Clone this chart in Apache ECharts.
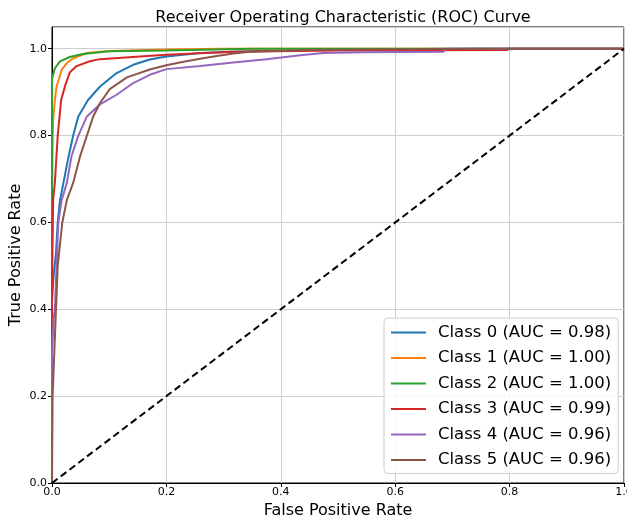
<!DOCTYPE html>
<html>
<head>
<meta charset="utf-8">
<script src="https://cdn.jsdelivr.net/npm/echarts@6/dist/echarts.min.js"></script>
<style>html,body{margin:0;padding:0;background:#fff;}#c{width:627px;height:521px;}</style>
</head>
<body>
<div id="c"></div>
<script>
const classNames = ['Class 0 (AUC = 0.98)', 'Class 1 (AUC = 1.00)', 'Class 2 (AUC = 1.00)', 'Class 3 (AUC = 0.99)', 'Class 4 (AUC = 0.96)', 'Class 5 (AUC = 0.96)'];
const colors = ['#1f77b4', '#ff7f0e', '#2ca02c', '#d62728', '#9467bd', '#8c564b'];
const xTicks = [0, 0.2, 0.4, 0.6, 0.8, 1.0];
const yTicks = [0, 0.2, 0.4, 0.6, 0.8, 1.0];

const fpr0 = [0, 0, 0.003, 0.007, 0.010, 0.014, 0.020, 0.029, 0.037, 0.046, 0.063, 0.084, 0.113, 0.142, 0.171, 0.2, 0.259, 0.317, 0.4, 0.5, 0.6, 0.7, 1.0];
const tpr0 = [0, 0.42, 0.48, 0.53, 0.6, 0.652, 0.691, 0.752, 0.8, 0.844, 0.882, 0.913, 0.944, 0.963, 0.975, 0.982, 0.99, 0.993, 0.996, 0.998, 0.999, 1.0, 1.0];

const fpr1 = [0, 0, 0.001, 0.002, 0.005, 0.008, 0.017, 0.026, 0.037, 0.061, 0.1, 0.2, 0.3, 1.0];
const tpr1 = [0, 0.6, 0.78, 0.836, 0.882, 0.913, 0.952, 0.967, 0.978, 0.99, 0.995, 0.998, 1.0, 1.0];

const fpr2 = [0, 0, 0.005, 0.014, 0.031, 0.054, 0.1, 0.2, 0.35, 1.0];
const tpr2 = [0, 0.93, 0.955, 0.971, 0.981, 0.988, 0.994, 0.996, 1.0, 1.0];

const fpr3 = [0, 0, 0.002, 0.005, 0.010, 0.016, 0.023, 0.031, 0.043, 0.066, 0.084, 0.154, 0.2, 0.316, 0.5, 0.795, 0.8, 1.0];
const tpr3 = [0, 0.45, 0.652, 0.691, 0.8, 0.882, 0.915, 0.945, 0.96, 0.971, 0.976, 0.982, 0.986, 0.993, 0.996, 0.997, 1.0, 1.0];

const fpr4 = [0, 0, 0.003, 0.005, 0.008, 0.011, 0.017, 0.026, 0.034, 0.046, 0.061, 0.084, 0.113, 0.142, 0.171, 0.2, 0.259, 0.317, 0.375, 0.434, 0.474, 0.544, 0.684, 0.69, 1.0];
const tpr4 = [0, 0.3, 0.38, 0.4, 0.5, 0.6, 0.652, 0.691, 0.752, 0.8, 0.844, 0.872, 0.894, 0.921, 0.94, 0.953, 0.96, 0.968, 0.976, 0.985, 0.99, 0.992, 0.993, 1.0, 1.0];

const fpr5 = [0, 0.001, 0.004, 0.007, 0.010, 0.018, 0.026, 0.037, 0.049, 0.061, 0.072, 0.084, 0.101, 0.131, 0.171, 0.2, 0.23, 0.259, 0.288, 0.317, 0.346, 0.45, 0.6, 0.8, 1.0];
const tpr5 = [0, 0.2, 0.3, 0.4, 0.5, 0.6, 0.652, 0.691, 0.752, 0.8, 0.844, 0.875, 0.907, 0.934, 0.952, 0.962, 0.97, 0.977, 0.983, 0.989, 0.993, 0.997, 0.999, 1.0, 1.0];

const diagX = [0, 1];
const diagY = [0, 1];

const fprs = [fpr0, fpr1, fpr2, fpr3, fpr4, fpr5];
const tprs = [tpr0, tpr1, tpr2, tpr3, tpr4, tpr5];

const FONT = 'DejaVu Sans';
const chart = echarts.init(document.getElementById('c'), null, {renderer: 'canvas'});

const series = classNames.map((name, i) => ({
  name: name,
  type: 'line',
  data: fprs[i].map((x, j) => [x, tprs[i][j]]),
  showSymbol: false,
  symbol: 'none',
  lineStyle: {color: colors[i], width: 2},
  itemStyle: {color: colors[i]},
  animation: false,
  z: 3 + i
}));
series.push({
  name: 'diag',
  type: 'line',
  data: diagX.map((x, j) => [x, diagY[j]]),
  showSymbol: false,
  symbol: 'none',
  lineStyle: {color: '#000', width: 2, type: [7, 4]},
  animation: false,
  z: 10
});

chart.setOption({
  animation: false,
  backgroundColor: '#fff',
  title: {
    text: 'Receiver Operating Characteristic (ROC) Curve',
    left: 338, textAlign: 'center', top: 5,
    textStyle: {fontFamily: FONT, fontSize: 16, fontWeight: 'normal', color: '#000'}
  },
  grid: {left: 52, right: 3, top: 27, bottom: 38, containLabel: false, outerBoundsMode: 'none',
    show: true, borderColor: '#000', borderWidth: 1, backgroundColor: 'transparent'},
  legend: {
    data: classNames,
    left: 384, top: 318, orient: 'vertical',
    padding: [6, 7, 5, 7],
    itemGap: 8.5,
    itemWidth: 35, itemHeight: 2,
    icon: 'rect',
    backgroundColor: 'rgba(255,255,255,0.8)',
    borderColor: '#cccccc', borderWidth: 1, borderRadius: 4,
    textStyle: {fontFamily: FONT, fontSize: 16.5, color: '#000', padding: [0, 0, 0, 7]}
  },
  xAxis: {
    type: 'value', min: 0, max: 1, interval: 0.2,
    name: 'False Positive Rate', nameLocation: 'middle', nameGap: 17,
    nameTextStyle: {fontFamily: FONT, fontSize: 16, color: '#000'},
    axisLine: {show: true, onZero: false, lineStyle: {color: '#000', width: 1}},
    axisTick: {show: true, length: 4, lineStyle: {color: '#000'}},
    axisLabel: {fontFamily: FONT, fontSize: 11, color: '#000', margin: 4, formatter: v => v.toFixed(1)},
    splitLine: {show: true, lineStyle: {color: '#cfcfcf', width: 1}}
  },
  yAxis: {
    type: 'value', min: 0, max: 1.05, interval: 0.2,
    name: 'True Positive Rate', nameLocation: 'middle', nameGap: 28, nameMoveOverlap: false,
    nameTextStyle: {fontFamily: FONT, fontSize: 16, color: '#000'},
    axisLine: {show: true, onZero: false, lineStyle: {color: '#000', width: 1}},
    axisTick: {show: true, length: 4, lineStyle: {color: '#000'}},
    axisLabel: {fontFamily: FONT, fontSize: 11, color: '#000', margin: 5, showMaxLabel: false,
      formatter: v => (v > 1.001 ? '' : v.toFixed(1))},
    splitLine: {show: true, lineStyle: {color: '#cfcfcf', width: 1}}
  },
  series: series
});
</script>
</body>
</html>
